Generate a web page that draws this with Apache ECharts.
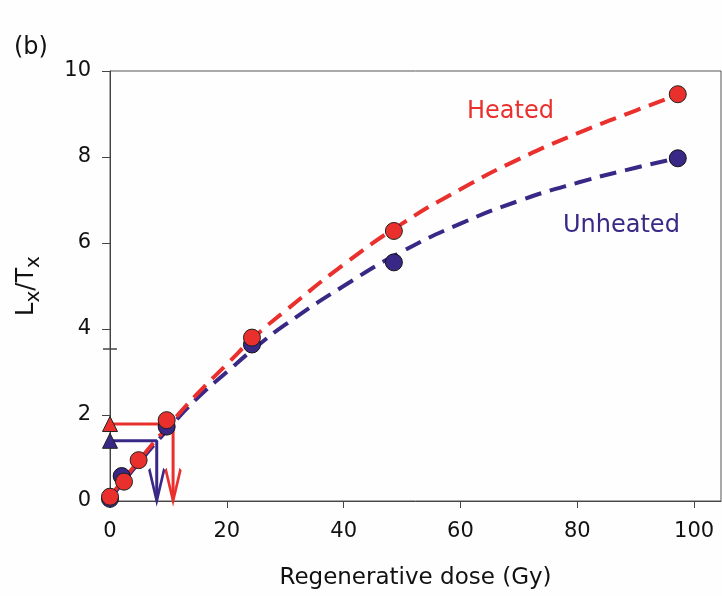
<!DOCTYPE html>
<html>
<head>
<meta charset="utf-8">
<script src="https://cdn.jsdelivr.net/npm/echarts@6/dist/echarts.min.js"></script>
<style>html,body{margin:0;padding:0;background:#fff}#c{width:722px;height:596px}</style>
</head>
<body>
<div id="c"></div>
<script>
// Measured points
const heatedDose = [0, 2.4, 4.9, 9.7, 24.3, 48.6, 97.2];
const heatedLxTx = [0.1, 0.45, 0.95, 1.88, 3.8, 6.28, 9.46];
const unheatedDose = [0, 2.0, 9.7, 24.3, 48.6, 97.2];
const unheatedLxTx = [0.05, 0.58, 1.73, 3.64, 5.55, 7.97];
// Dose-response curves
const curveDose = [0, 5, 10, 15, 20, 25, 30, 40, 50, 60, 70, 80, 90, 97.2];
const heatedCurve = [0.1, 0.95, 1.75, 2.5, 3.18, 3.85, 4.42, 5.5, 6.45, 7.25, 7.95, 8.55, 9.08, 9.45];
const unheatedCurve = [0.05, 0.9, 1.68, 2.4, 3.0, 3.58, 4.1, 5.0, 5.8, 6.45, 6.98, 7.4, 7.75, 7.97];
// Natural signals projected onto curves
const heatedNatural = { lxtx: 1.79, de: 10.8 };
const unheatedNatural = { lxtx: 1.40, de: 8.0 };
const xTicks = [0, 20, 40, 60, 80, 100];
const yTicks = [0, 2, 4, 6, 8, 10];
const breakMarkY = [3.54];

const RED = '#e9302d';
const BLUE = '#3a2887';
const FONT = 'DejaVu Sans';

const zip = (a, b) => a.map((v, i) => [v, b[i]]);
const vArrow = 'path://M0,0L7,28L14,0';

const extraYAxis = (inside) => ({
  type: 'value', min: 0, max: 10, position: 'left',
  axisLine: { show: false },
  axisTick: { show: true, inside: inside, length: 7, customValues: breakMarkY, lineStyle: { color: '#444', width: 1.5 } },
  axisLabel: { show: false },
  splitLine: { show: false }
});

const chart = echarts.init(document.getElementById('c'));
chart.setOption({
  animation: false,
  backgroundColor: '#fefefe',
  grid: { left: 110, right: 1, top: 71, bottom: 95, show: true, borderColor: '#555', borderWidth: 1 },
  xAxis: {
    type: 'value', min: 0, max: 104.6, interval: 20,
    name: 'Regenerative dose (Gy)', nameLocation: 'middle', nameGap: 66,
    nameTextStyle: { fontFamily: FONT, fontSize: 23, color: '#111' },
    axisLine: { lineStyle: { color: '#444' } },
    axisTick: { length: 7, lineStyle: { color: '#444' } },
    axisLabel: { showMaxLabel: false, margin: 20, fontFamily: FONT, fontSize: 21, color: '#111',
      formatter: v => xTicks.includes(v) ? String(v) : '' },
    splitLine: { show: false }
  },
  yAxis: [{
    type: 'value', min: 0, max: 10, interval: 2,
    name: '{m|L}{s|x}{m|/T}{s|x}', nameLocation: 'middle', nameGap: 66, nameRotate: 90,
    nameTextStyle: {
      fontFamily: FONT, color: '#111',
      rich: {
        m: { fontFamily: FONT, fontSize: 24, lineHeight: 34, color: '#111' },
        s: { fontFamily: FONT, fontSize: 20, lineHeight: 20, verticalAlign: 'bottom', color: '#111' }
      }
    },
    axisLine: { lineStyle: { color: '#444' } },
    axisTick: { length: 8, lineStyle: { color: '#444' } },
    axisLabel: { margin: 19, fontFamily: FONT, fontSize: 21, color: '#111',
      formatter: v => yTicks.includes(v) ? String(v) : '' },
    splitLine: { show: false }
  }, extraYAxis(true), extraYAxis(false)],
  graphic: [
    { type: 'text', left: 14, top: 36, style: { text: '(b)', fontFamily: FONT, fontSize: 24, fill: '#111' } },
    { type: 'text', left: 467, top: 100, style: { text: 'Heated', fontFamily: FONT, fontSize: 24, fill: RED } },
    { type: 'text', left: 563, top: 214, style: { text: 'Unheated', fontFamily: FONT, fontSize: 24, fill: BLUE } }
  ],
  series: [
    { type: 'line', data: zip(curveDose, unheatedCurve), smooth: true, symbol: 'none',
      lineStyle: { color: BLUE, width: 4, type: [17, 9] }, z: 2 },
    { type: 'line', data: zip(curveDose, heatedCurve), smooth: true, symbol: 'none',
      lineStyle: { color: RED, width: 4, type: [17, 9] }, z: 3 },
    // unheated arrow
    { type: 'line', data: [[0, unheatedNatural.lxtx], [unheatedNatural.de, unheatedNatural.lxtx], [unheatedNatural.de, 0.05]],
      symbol: 'none', lineStyle: { color: BLUE, width: 3 }, z: 4 },
    { type: 'scatter', data: [[unheatedNatural.de, 0]], symbol: vArrow, symbolSize: [15, 32], symbolOffset: [0, -16],
      itemStyle: { color: 'none', borderColor: BLUE, borderWidth: 3.5, opacity: 1 }, z: 4 },
    // heated arrow
    { type: 'line', data: [[0, heatedNatural.lxtx], [heatedNatural.de, heatedNatural.lxtx], [heatedNatural.de, 0.05]],
      symbol: 'none', lineStyle: { color: RED, width: 3 }, z: 5 },
    { type: 'scatter', data: [[heatedNatural.de, 0]], symbol: vArrow, symbolSize: [15, 32], symbolOffset: [0, -16],
      itemStyle: { color: 'none', borderColor: RED, borderWidth: 3.5, opacity: 1 }, z: 5 },
    // natural triangles
    { type: 'scatter', data: [[0, unheatedNatural.lxtx]], symbol: 'triangle', symbolSize: 15,
      itemStyle: { color: BLUE, borderColor: '#222', borderWidth: 1, opacity: 1 }, z: 6 },
    { type: 'scatter', data: [[0, heatedNatural.lxtx]], symbol: 'triangle', symbolSize: 15,
      itemStyle: { color: RED, borderColor: '#222', borderWidth: 1, opacity: 1 }, z: 6 },
    // points
    { type: 'scatter', data: zip(unheatedDose, unheatedLxTx), symbol: 'circle', symbolSize: 17,
      itemStyle: { color: BLUE, borderColor: '#111', borderWidth: 1, opacity: 1 }, z: 7 },
    { type: 'scatter', data: zip(heatedDose, heatedLxTx), symbol: 'circle', symbolSize: 17,
      itemStyle: { color: RED, borderColor: '#222', borderWidth: 1, opacity: 1 }, z: 8 }
  ]
});
</script>
</body>
</html>
